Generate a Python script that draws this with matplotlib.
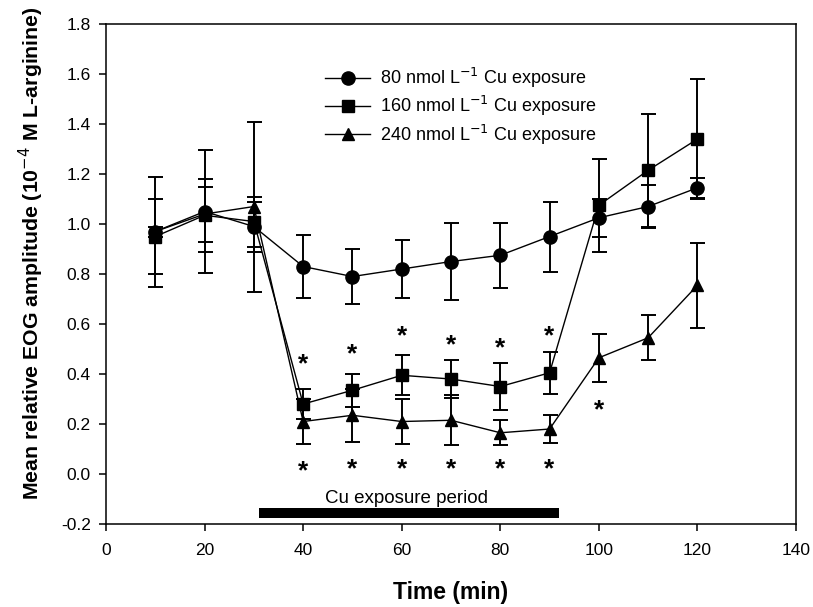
import matplotlib
matplotlib.use("Agg")
import matplotlib.pyplot as plt

plt.rcParams['font.family'] = ['Liberation Sans', 'DejaVu Sans']

time = [10, 20, 30, 40, 50, 60, 70, 80, 90, 100, 110, 120]

c80 = [0.97, 1.05, 0.99, 0.83, 0.79, 0.82, 0.85, 0.875, 0.95, 1.025, 1.07, 1.145]
c80_err = [0.22, 0.245, 0.10, 0.125, 0.11, 0.115, 0.155, 0.13, 0.14, 0.075, 0.085, 0.04]

c160 = [0.95, 1.035, 1.01, 0.28, 0.335, 0.395, 0.38, 0.35, 0.405, 1.075, 1.215, 1.34]
c160_err = [0.15, 0.145, 0.10, 0.06, 0.065, 0.08, 0.075, 0.095, 0.085, 0.185, 0.225, 0.24]

c240 = [0.97, 1.04, 1.07, 0.21, 0.235, 0.21, 0.215, 0.165, 0.18, 0.465, 0.545, 0.755]
c240_err = [0.02, 0.11, 0.34, 0.09, 0.105, 0.09, 0.1, 0.05, 0.055, 0.095, 0.09, 0.17]

labels = ['80 nmol L$^{-1}$ Cu exposure',
          '160 nmol L$^{-1}$ Cu exposure',
          '240 nmol L$^{-1}$ Cu exposure']

# significance stars (visual centre)
star_top_x = [40, 50, 60, 70, 80, 90]
star_top_y = [0.464, 0.504, 0.576, 0.54, 0.528, 0.576]
star_bot_x = [40, 50, 60, 70, 80, 90, 100]
star_bot_y = [0.036, 0.044, 0.044, 0.044, 0.044, 0.044, 0.282]

period = [31.0, 91.9]
period_y = -0.156

fig = plt.figure(figsize=(8.13, 6.07), dpi=100)
ax = fig.add_axes([0.1304, 0.1367, 0.8487, 0.8237])

kw = dict(color='black', ecolor='black', elinewidth=1.4, capsize=5.4,
          capthick=1.4, linewidth=1.0)
e1 = ax.errorbar(time, c80, yerr=c80_err, marker='o', markersize=9.5, **kw)
e2 = ax.errorbar(time, c160, yerr=c160_err, marker='s', markersize=8.4, **kw)
e3 = ax.errorbar(time, c240, yerr=c240_err, marker='^', markersize=9, **kw)

star_off = 0.027
for x, y in zip(star_top_x + star_bot_x, star_top_y + star_bot_y):
    ax.text(x, y - star_off, '*', ha='center', va='center', fontsize=19, fontweight='bold')

ax.plot(period, [period_y, period_y], color='black', linewidth=7.2, solid_capstyle='butt')
ax.text(60.9, -0.096, 'Cu exposure period', ha='center', va='center', fontsize=13.5)

ax.set_xlim(0, 140)
ax.set_ylim(-0.2, 1.8)
ax.set_xticks(range(0, 141, 20))
ax.set_yticks([-0.2 + 0.2 * i for i in range(11)])
ax.set_yticklabels([f'{-0.2 + 0.2 * i:.1f}' for i in range(11)])
ax.tick_params(direction='out', labelsize=12.5, length=5, width=1.1)
ax.tick_params(axis='x', pad=9)
ax.tick_params(axis='y', pad=6)
for s in ax.spines.values():
    s.set_linewidth(1.1)

ax.set_xlabel('Time (min)', fontsize=16.5, fontweight='bold', labelpad=16)
ax.set_ylabel('Mean relative EOG amplitude (10$^{-4}$ M L-arginine)',
              fontsize=15.3, fontweight='bold')
ax.yaxis.set_label_coords(-0.087, 0.542)

ax.legend([e1.lines[0], e2.lines[0], e3.lines[0]], labels,
          loc='upper left', bbox_to_anchor=(0.307, 0.93), borderaxespad=0,
          frameon=False, fontsize=13, handlelength=2.5, labelspacing=0.22,
          handletextpad=0.55)

fig.savefig('out.png', dpi=100)
